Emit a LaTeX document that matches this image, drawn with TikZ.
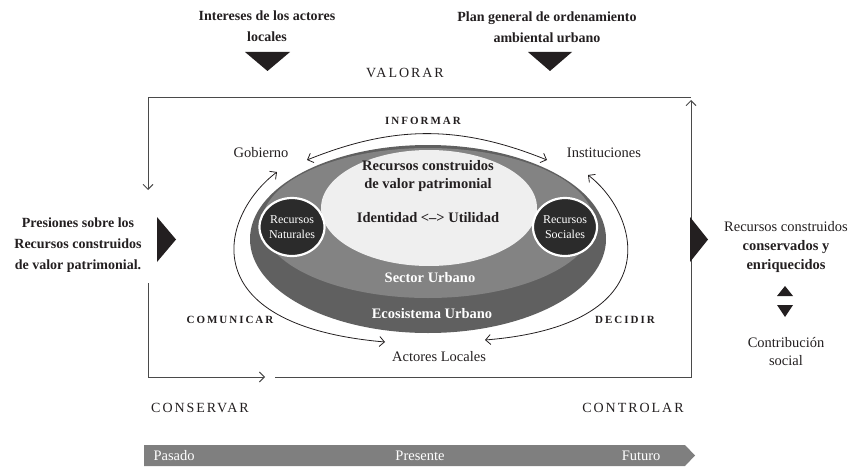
\documentclass[tikz,border=0pt]{standalone}
\usepackage{fontspec}
\setmainfont{Liberation Serif}
\newfontfamily\stagefont[LetterSpace=14]{Liberation Serif}
\newfontfamily\verbfont[LetterSpace=18]{Liberation Serif}
\usetikzlibrary{shapes.geometric,arrows.meta}
\definecolor{ringdark}{HTML}{606060}
\definecolor{ringmid}{HTML}{838383}
\definecolor{corefill}{HTML}{EFEFEF}
\definecolor{resdark}{HTML}{2B2B2B}
\definecolor{ink}{HTML}{231F20}
\definecolor{timebar}{HTML}{7F7F7F}
\definecolor{rule}{HTML}{4A4A4A}

\begin{document}
\begin{tikzpicture}[x=1pt,y=-1pt,>={Straight Barb[length=5pt,width=10pt]},
    font=\fontsize{14.5}{18}\selectfont,text=ink]
    \tikzset{
      actor/.style={align=center},
      source/.style={align=center,font=\bfseries\fontsize{14}{21}\selectfont},
      stage/.style={font=\stagefont\fontsize{14}{16}\selectfont},
      verb/.style={font=\verbfont\bfseries\fontsize{11}{13}\selectfont},
      heart/.style={align=center,font=\bfseries\fontsize{14.5}{18}\selectfont},
      ring/.style={text=white,font=\bfseries\fontsize{14.5}{18}\selectfont},
      resource/.style={ellipse,fill=resdark,draw=white,line width=2.2pt,
        minimum width=64pt,minimum height=58pt,inner sep=0pt,text=white,
        align=center,font=\fontsize{12}{15}\selectfont},
      frame/.style={draw=rule,line width=0.9pt},
      flow/.style={draw=ink,line width=0.8pt,<->},
      pointer/.style={fill=ink},
      era/.style={text=white,font=\fontsize{14.5}{18}\selectfont}
    }
    \useasboundingbox (0,0) rectangle (853,468);

    \fill[ringdark] (428,239) ellipse [x radius=178, y radius=94];
    \fill[ringmid] (428,223) ellipse [x radius=166, y radius=75];
    \fill[corefill] (429,208) ellipse [x radius=108, y radius=58];

    \node[heart] (patrimonio) at (428,176) {Recursos construidos\\de valor patrimonial};
    \node[heart] (identidad) at (428,218) {Identidad <–> Utilidad};
    \node[ring] (sector) at (430,278) {Sector Urbano};
    \node[ring] (ecosistema) at (432,314) {Ecosistema Urbano};
    \node[resource] (naturales) at (292,227) {Recursos\\Naturales};
    \node[resource] (sociales) at (565,227) {Recursos\\Sociales};

    \node[actor] (gob) at (261,153) {Gobierno};
    \node[actor] (inst) at (604,153) {Instituciones};
    \node[actor] (actores) at (439,357) {Actores Locales};

    \node[verb] (informar) at (423,121) {INFORMAR};
    \node[verb] (comunicar) at (230,320) {COMUNICAR};
    \node[verb] (decidir) at (625,320) {DECIDIR};

    \path[flow] ([shift={(46,7)}]gob.center) to[bend left=22] ([shift={(-57,7)}]inst.center);
    \path[flow] ([shift={(16,19)}]gob.center) .. controls (220,215) and (190,325) .. ([shift={(-54,-15)}]actores.center);
    \path[flow] ([shift={(-16,22)}]inst.center) .. controls (640,215) and (670,325) .. ([shift={(46,-17)}]actores.center);

    \node[source] (intereses) at (267,26) {Intereses de los actores\\locales};
    \node[source] (plan) at (547,27) {Plan general de ordenamiento\\ambiental urbano};
    \node[source] (presiones) at (78,245) {Presiones sobre los\\Recursos construidos\\de valor patrimonial.};
    \node[actor,align=center,font=\fontsize{14.5}{19}\selectfont] (logro) at (786,247)
      {Recursos construidos\\\textbf{conservados y}\\\textbf{enriquecidos}};
    \node[actor] (contrib) at (786,352) {Contribución\\social};

    \node[stage] (valorar) at (405,73) {VALORAR};
    \node[stage] (conservar) at (200,408) {CONSERVAR};
    \node[stage] (controlar) at (633,408) {CONTROLAR};

    \coordinate (tl) at (148,97);
    \coordinate (tr) at (691,97);
    \coordinate (lin) at (148,190);
    \coordinate (lout) at (148,283);
    \coordinate (bl) at (148,377);
    \coordinate (bin) at (265,377);
    \coordinate (bout) at (275,377);
    \coordinate (br) at (691,377);
    \coordinate (rin) at (691,100);
    \draw[frame,->] (tr) -- (tl) -- (lin);
    \draw[frame,->] (lout) -- (bl) -- (bin);
    \draw[frame,->] (bout) -- (br) -- (rin);

    \fill[pointer] (245,52) -- (290,52) -- (267.5,71) -- cycle;
    \fill[pointer] (528,52) -- (572,52) -- (550,71) -- cycle;
    \fill[pointer] (157,217) -- (176,239.5) -- (157,262) -- cycle;
    \fill[pointer] (690,217) -- (708,239.5) -- (690,262) -- cycle;
    \fill[pointer] (777,296) -- (793,296) -- (785,286) -- cycle;
    \fill[pointer] (777,305) -- (793,305) -- (785,317) -- cycle;

    \fill[timebar] (144,445) -- (685,445) -- (695,455.5) -- (685,466) -- (144,466) -- cycle;
    \node[era,anchor=west] (pasado) at (150,456) {Pasado};
    \node[era] (presente) at (420,456) {Presente};
    \node[era,anchor=east] (futuro) at (664,456) {Futuro};
  \end{tikzpicture}
\end{document}
